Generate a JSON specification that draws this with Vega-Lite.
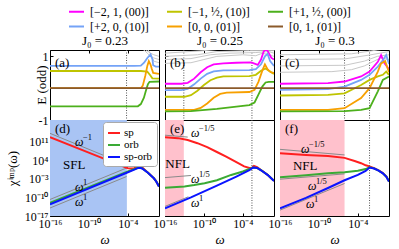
{
"$schema":"https://vega.github.io/schema/vega-lite/v6.json",
"padding":{"left":5,"top":3,"right":8,"bottom":1},
"autosize":{"type":"pad"},
"config":{
 "font":"Liberation Serif",
 "view":{"stroke":"black","strokeWidth":1},
 "axis":{"grid":false,"domainColor":"black","tickColor":"black","labelColor":"black","titleColor":"black","labelFontSize":12,"titleFontSize":13,"titleFontWeight":"normal","labelFont":"Liberation Serif","titleFont":"Liberation Serif","labelFlush":false},
 "title":{"fontSize":13,"fontWeight":"normal","color":"black","font":"Liberation Serif"},
 "legend":{"labelFont":"Liberation Serif","labelColor":"black"},
 "text":{"font":"Liberation Serif","color":"black"}
},
"datasets":{
"top":[
{"p":"a","s":"[+2, 0, (10)]","w":1e-16,"E":0.70},{"p":"a","s":"[+2, 0, (10)]","w":1e-3,"E":0.70},{"p":"a","s":"[+2, 0, (10)]","w":1e-2,"E":0.71},{"p":"a","s":"[+2, 0, (10)]","w":0.0316,"E":0.80},{"p":"a","s":"[+2, 0, (10)]","w":0.1,"E":0.95},{"p":"a","s":"[+2, 0, (10)]","w":0.316,"E":1.06},{"p":"a","s":"[+2, 0, (10)]","w":0.631,"E":0.9},{"p":"a","s":"[+2, 0, (10)]","w":0.8,"E":0.72},{"p":"a","s":"[+2, 0, (10)]","w":2,"E":0.68},{"p":"a","s":"[+2, 0, (10)]","w":6.31,"E":0.68},
{"p":"a","s":"[−1, ½, (10)]","w":1e-16,"E":0.54},{"p":"a","s":"[−1, ½, (10)]","w":1e-2,"E":0.54},{"p":"a","s":"[−1, ½, (10)]","w":0.1,"E":0.52},{"p":"a","s":"[−1, ½, (10)]","w":0.3,"E":0.40},{"p":"a","s":"[−1, ½, (10)]","w":0.6,"E":0.31},{"p":"a","s":"[−1, ½, (10)]","w":6.31,"E":0.30},
{"p":"a","s":"[+1, ½, (00)]","w":1e-16,"E":-0.57},{"p":"a","s":"[+1, ½, (00)]","w":3.5e-3,"E":-0.57},{"p":"a","s":"[+1, ½, (00)]","w":1e-2,"E":-0.5},{"p":"a","s":"[+1, ½, (00)]","w":0.03,"E":-0.3},{"p":"a","s":"[+1, ½, (00)]","w":0.06,"E":-0.08},{"p":"a","s":"[+1, ½, (00)]","w":0.12,"E":0.12},{"p":"a","s":"[+1, ½, (00)]","w":0.22,"E":0.2},{"p":"a","s":"[+1, ½, (00)]","w":6.31,"E":0.21},
{"p":"a","s":"[0, 0, (01)]","w":1e-16,"E":0},{"p":"a","s":"[0, 0, (01)]","w":1e-2,"E":0},{"p":"a","s":"[0, 0, (01)]","w":0.02,"E":0.08},{"p":"a","s":"[0, 0, (01)]","w":0.05,"E":0.4},{"p":"a","s":"[0, 0, (01)]","w":0.1,"E":0.7},{"p":"a","s":"[0, 0, (01)]","w":0.17,"E":0.85},{"p":"a","s":"[0, 0, (01)]","w":0.3,"E":0.75},{"p":"a","s":"[0, 0, (01)]","w":0.5,"E":0.6},{"p":"a","s":"[0, 0, (01)]","w":0.8,"E":0.48},{"p":"a","s":"[0, 0, (01)]","w":6.31,"E":0.45},
{"p":"a","s":"[0, 1, (01)]","w":1e-16,"E":0},{"p":"a","s":"[0, 1, (01)]","w":6.31,"E":0},
{"p":"b","s":"[−2, 1, (00)]","w":1e-16,"E":0.14},{"p":"b","s":"[−2, 1, (00)]","w":3.16e-14,"E":0.14},{"p":"b","s":"[−2, 1, (00)]","w":3.16e-13,"E":0.17},{"p":"b","s":"[−2, 1, (00)]","w":3.16e-12,"E":0.3},{"p":"b","s":"[−2, 1, (00)]","w":3.16e-11,"E":0.5},{"p":"b","s":"[−2, 1, (00)]","w":3.16e-10,"E":0.66},{"p":"b","s":"[−2, 1, (00)]","w":3.16e-9,"E":0.75},{"p":"b","s":"[−2, 1, (00)]","w":1e-7,"E":0.78},{"p":"b","s":"[−2, 1, (00)]","w":1e-5,"E":0.8},{"p":"b","s":"[−2, 1, (00)]","w":2e-3,"E":0.81},{"p":"b","s":"[−2, 1, (00)]","w":2e-2,"E":0.73},{"p":"b","s":"[−2, 1, (00)]","w":0.0631,"E":0.9},{"p":"b","s":"[−2, 1, (00)]","w":0.158,"E":1.15},{"p":"b","s":"[−2, 1, (00)]","w":0.398,"E":1.25},{"p":"b","s":"[−2, 1, (00)]","w":1,"E":1.1},{"p":"b","s":"[−2, 1, (00)]","w":2.51,"E":0.95},{"p":"b","s":"[−2, 1, (00)]","w":6.31,"E":0.9},
{"p":"b","s":"[+2, 0, (10)]","w":1e-16,"E":-0.06},{"p":"b","s":"[+2, 0, (10)]","w":3.16e-14,"E":-0.06},{"p":"b","s":"[+2, 0, (10)]","w":3.16e-13,"E":-0.02},{"p":"b","s":"[+2, 0, (10)]","w":3.16e-12,"E":0.12},{"p":"b","s":"[+2, 0, (10)]","w":3.16e-11,"E":0.3},{"p":"b","s":"[+2, 0, (10)]","w":3.16e-10,"E":0.45},{"p":"b","s":"[+2, 0, (10)]","w":3.16e-9,"E":0.53},{"p":"b","s":"[+2, 0, (10)]","w":1e-7,"E":0.56},{"p":"b","s":"[+2, 0, (10)]","w":1e-3,"E":0.57},{"p":"b","s":"[+2, 0, (10)]","w":1e-2,"E":0.6},{"p":"b","s":"[+2, 0, (10)]","w":0.0631,"E":0.75},{"p":"b","s":"[+2, 0, (10)]","w":0.251,"E":1.0},{"p":"b","s":"[+2, 0, (10)]","w":0.631,"E":1.08},{"p":"b","s":"[+2, 0, (10)]","w":1.58,"E":0.85},{"p":"b","s":"[+2, 0, (10)]","w":6.31,"E":0.7},
{"p":"b","s":"[−1, ½, (10)]","w":1e-16,"E":-0.27},{"p":"b","s":"[−1, ½, (10)]","w":1e-13,"E":-0.27},{"p":"b","s":"[−1, ½, (10)]","w":1e-12,"E":-0.22},{"p":"b","s":"[−1, ½, (10)]","w":1e-11,"E":-0.08},{"p":"b","s":"[−1, ½, (10)]","w":1e-10,"E":0.1},{"p":"b","s":"[−1, ½, (10)]","w":1e-9,"E":0.25},{"p":"b","s":"[−1, ½, (10)]","w":1e-8,"E":0.33},{"p":"b","s":"[−1, ½, (10)]","w":1e-7,"E":0.37},{"p":"b","s":"[−1, ½, (10)]","w":1e-3,"E":0.38},{"p":"b","s":"[−1, ½, (10)]","w":1e-2,"E":0.42},{"p":"b","s":"[−1, ½, (10)]","w":0.0631,"E":0.55},{"p":"b","s":"[−1, ½, (10)]","w":0.316,"E":0.62},{"p":"b","s":"[−1, ½, (10)]","w":1,"E":0.55},{"p":"b","s":"[−1, ½, (10)]","w":6.31,"E":0.45},
{"p":"b","s":"[0, 0, (01)]","w":1e-16,"E":-0.68},{"p":"b","s":"[0, 0, (01)]","w":3.16e-12,"E":-0.68},{"p":"b","s":"[0, 0, (01)]","w":3.16e-11,"E":-0.62},{"p":"b","s":"[0, 0, (01)]","w":3.16e-10,"E":-0.48},{"p":"b","s":"[0, 0, (01)]","w":3.16e-9,"E":-0.3},{"p":"b","s":"[0, 0, (01)]","w":3.16e-8,"E":-0.18},{"p":"b","s":"[0, 0, (01)]","w":3.16e-7,"E":-0.14},{"p":"b","s":"[0, 0, (01)]","w":1e-3,"E":-0.12},{"p":"b","s":"[0, 0, (01)]","w":6.31e-3,"E":-0.05},{"p":"b","s":"[0, 0, (01)]","w":0.0251,"E":0.2},{"p":"b","s":"[0, 0, (01)]","w":0.1,"E":0.55},{"p":"b","s":"[0, 0, (01)]","w":0.251,"E":0.75},{"p":"b","s":"[0, 0, (01)]","w":0.631,"E":0.6},{"p":"b","s":"[0, 0, (01)]","w":2,"E":0.5},{"p":"b","s":"[0, 0, (01)]","w":6.31,"E":0.48},
{"p":"b","s":"[+1, ½, (00)]","w":1e-16,"E":-0.73},{"p":"b","s":"[+1, ½, (00)]","w":1e-12,"E":-0.72},{"p":"b","s":"[+1, ½, (00)]","w":1e-8,"E":-0.65},{"p":"b","s":"[+1, ½, (00)]","w":1e-5,"E":-0.58},{"p":"b","s":"[+1, ½, (00)]","w":1e-3,"E":-0.53},{"p":"b","s":"[+1, ½, (00)]","w":6.31e-3,"E":-0.45},{"p":"b","s":"[+1, ½, (00)]","w":0.0251,"E":-0.2},{"p":"b","s":"[+1, ½, (00)]","w":0.1,"E":0.05},{"p":"b","s":"[+1, ½, (00)]","w":0.316,"E":0.18},{"p":"b","s":"[+1, ½, (00)]","w":1,"E":0.2},{"p":"b","s":"[+1, ½, (00)]","w":6.31,"E":0.2},
{"p":"b","s":"[0, 1, (01)]","w":1e-16,"E":0},{"p":"b","s":"[0, 1, (01)]","w":6.31,"E":0},
{"p":"c","s":"[−2, 1, (00)]","w":1e-16,"E":0.14},{"p":"c","s":"[−2, 1, (00)]","w":2.51e-9,"E":0.16},{"p":"c","s":"[−2, 1, (00)]","w":8.91e-7,"E":0.21},{"p":"c","s":"[−2, 1, (00)]","w":3.16e-4,"E":0.37},{"p":"c","s":"[−2, 1, (00)]","w":6.31e-3,"E":0.52},{"p":"c","s":"[−2, 1, (00)]","w":0.12,"E":0.83},{"p":"c","s":"[−2, 1, (00)]","w":0.38,"E":1.04},{"p":"c","s":"[−2, 1, (00)]","w":1.29,"E":0.78},{"p":"c","s":"[−2, 1, (00)]","w":6.31,"E":0.6},
{"p":"c","s":"[+2, 0, (10)]","w":1e-16,"E":-0.05},{"p":"c","s":"[+2, 0, (10)]","w":2.51e-9,"E":-0.03},{"p":"c","s":"[+2, 0, (10)]","w":8.91e-7,"E":0.05},{"p":"c","s":"[+2, 0, (10)]","w":3.16e-4,"E":0.26},{"p":"c","s":"[+2, 0, (10)]","w":6.31e-3,"E":0.42},{"p":"c","s":"[+2, 0, (10)]","w":0.12,"E":0.68},{"p":"c","s":"[+2, 0, (10)]","w":0.708,"E":0.88},{"p":"c","s":"[+2, 0, (10)]","w":2.34,"E":1.04},{"p":"c","s":"[+2, 0, (10)]","w":6.31,"E":0.76},
{"p":"c","s":"[−1, ½, (10)]","w":1e-16,"E":-0.23},{"p":"c","s":"[−1, ½, (10)]","w":2.51e-9,"E":-0.21},{"p":"c","s":"[−1, ½, (10)]","w":8.91e-7,"E":-0.16},{"p":"c","s":"[−1, ½, (10)]","w":3.16e-4,"E":0.1},{"p":"c","s":"[−1, ½, (10)]","w":6.31e-3,"E":0.26},{"p":"c","s":"[−1, ½, (10)]","w":0.12,"E":0.37},{"p":"c","s":"[−1, ½, (10)]","w":0.708,"E":0.42},{"p":"c","s":"[−1, ½, (10)]","w":2.34,"E":0.52},{"p":"c","s":"[−1, ½, (10)]","w":6.31,"E":0.42},
{"p":"c","s":"[0, 0, (01)]","w":1e-16,"E":-0.68},{"p":"c","s":"[0, 0, (01)]","w":2.51e-9,"E":-0.68},{"p":"c","s":"[0, 0, (01)]","w":8.91e-7,"E":-0.63},{"p":"c","s":"[0, 0, (01)]","w":3.16e-4,"E":-0.31},{"p":"c","s":"[0, 0, (01)]","w":6.31e-3,"E":0.0},{"p":"c","s":"[0, 0, (01)]","w":0.12,"E":0.52},{"p":"c","s":"[0, 0, (01)]","w":0.38,"E":0.78},{"p":"c","s":"[0, 0, (01)]","w":1.58,"E":0.85},{"p":"c","s":"[0, 0, (01)]","w":6.31,"E":0.5},
{"p":"c","s":"[+1, ½, (00)]","w":1e-16,"E":-0.73},{"p":"c","s":"[+1, ½, (00)]","w":1e-6,"E":-0.72},{"p":"c","s":"[+1, ½, (00)]","w":3.16e-4,"E":-0.68},{"p":"c","s":"[+1, ½, (00)]","w":6.31e-3,"E":-0.63},{"p":"c","s":"[+1, ½, (00)]","w":0.12,"E":-0.1},{"p":"c","s":"[+1, ½, (00)]","w":0.708,"E":0.26},{"p":"c","s":"[+1, ½, (00)]","w":6.31,"E":0.37},
{"p":"c","s":"[0, 1, (01)]","w":1e-16,"E":0},{"p":"c","s":"[0, 1, (01)]","w":6.31,"E":0}
],
"topg":[
{"p":"a","s":"g1","w":1e-3,"E":1.3},{"p":"a","s":"g1","w":0.0316,"E":1.2},{"p":"a","s":"g1","w":0.1,"E":1.1},{"p":"a","s":"g1","w":0.316,"E":1.0},{"p":"a","s":"g1","w":1,"E":0.95},{"p":"a","s":"g1","w":6.31,"E":0.9},
{"p":"a","s":"g2","w":1e-2,"E":1.35},{"p":"a","s":"g2","w":0.1,"E":1.17},{"p":"a","s":"g2","w":0.316,"E":1.1},{"p":"a","s":"g2","w":1,"E":1.05},{"p":"a","s":"g2","w":6.31,"E":1.0},
{"p":"a","s":"g3","w":0.03,"E":1.4},{"p":"a","s":"g3","w":0.2,"E":1.15},{"p":"a","s":"g3","w":1,"E":0.85},{"p":"a","s":"g3","w":6.31,"E":0.8},
{"p":"b","s":"g1","w":1e-16,"E":0.78},{"p":"b","s":"g1","w":1e-12,"E":0.8},{"p":"b","s":"g1","w":1e-10,"E":0.9},{"p":"b","s":"g1","w":1e-8,"E":1.0},{"p":"b","s":"g1","w":1e-4,"E":1.05},{"p":"b","s":"g1","w":1e-2,"E":1.02},{"p":"b","s":"g1","w":0.1,"E":1.1},{"p":"b","s":"g1","w":1,"E":1.05},{"p":"b","s":"g1","w":6.31,"E":1.0},
{"p":"b","s":"g2","w":1e-16,"E":0.9},{"p":"b","s":"g2","w":1e-12,"E":0.93},{"p":"b","s":"g2","w":1e-9,"E":1.05},{"p":"b","s":"g2","w":1e-6,"E":1.1},{"p":"b","s":"g2","w":1e-2,"E":1.12},{"p":"b","s":"g2","w":1,"E":1.15},{"p":"b","s":"g2","w":6.31,"E":1.1},
{"p":"b","s":"g3","w":1e-16,"E":1.0},{"p":"b","s":"g3","w":1e-11,"E":1.05},{"p":"b","s":"g3","w":1e-8,"E":1.15},{"p":"b","s":"g3","w":1e-3,"E":1.18},{"p":"b","s":"g3","w":6.31,"E":1.18},
{"p":"b","s":"g4","w":1e-16,"E":1.1},{"p":"b","s":"g4","w":1e-10,"E":1.18},{"p":"b","s":"g4","w":1e-6,"E":1.25},
{"p":"c","s":"g1","w":1e-16,"E":0.5},{"p":"c","s":"g1","w":1e-8,"E":0.52},{"p":"c","s":"g1","w":1e-5,"E":0.58},{"p":"c","s":"g1","w":1e-3,"E":0.7},{"p":"c","s":"g1","w":0.0316,"E":0.85},{"p":"c","s":"g1","w":0.316,"E":0.95},{"p":"c","s":"g1","w":6.31,"E":0.9},
{"p":"c","s":"g2","w":1e-16,"E":0.7},{"p":"c","s":"g2","w":1e-6,"E":0.72},{"p":"c","s":"g2","w":1e-3,"E":0.85},{"p":"c","s":"g2","w":0.1,"E":1.0},{"p":"c","s":"g2","w":6.31,"E":1.05},
{"p":"c","s":"g3","w":1e-16,"E":0.9},{"p":"c","s":"g3","w":1e-6,"E":0.92},{"p":"c","s":"g3","w":1e-2,"E":1.05},{"p":"c","s":"g3","w":6.31,"E":1.15},
{"p":"c","s":"g4","w":1e-16,"E":1.05},{"p":"c","s":"g4","w":1e-5,"E":1.08},{"p":"c","s":"g4","w":0.1,"E":1.2},{"p":"c","s":"g4","w":6.31,"E":1.25}
],
"bot":[
{"p":"d","s":"sp","w":1e-16,"c":3.98e12},{"p":"d","s":"sp","w":1e-8,"c":6.31e4},{"p":"d","s":"sp","w":1e-4,"c":7.94},{"p":"d","s":"sp","w":5.01e-4,"c":6.31},{"p":"d","s":"sp","w":1e-3,"c":8.91},{"p":"d","s":"sp","w":2.51e-3,"c":39.8},{"p":"d","s":"sp","w":5.01e-3,"c":56.2},{"p":"d","s":"sp","w":0.0158,"c":15.8},{"p":"d","s":"sp","w":0.126,"c":0.178},{"p":"d","s":"sp","w":1,"c":1.58e-3},{"p":"d","s":"sp","w":2.24,"c":1.26e-4},{"p":"d","s":"sp","w":6.31,"c":1.26e-6},
{"p":"d","s":"orb","w":1e-16,"c":7.94e-13},{"p":"d","s":"orb","w":1e-4,"c":0.501},{"p":"d","s":"orb","w":1e-3,"c":3.98},{"p":"d","s":"orb","w":3.16e-3,"c":10},{"p":"d","s":"orb","w":6.31e-3,"c":12.6},{"p":"d","s":"orb","w":0.0158,"c":7.94},{"p":"d","s":"orb","w":0.126,"c":0.178},{"p":"d","s":"orb","w":1,"c":1.58e-3},{"p":"d","s":"orb","w":2.24,"c":1.26e-4},{"p":"d","s":"orb","w":6.31,"c":1.26e-6},
{"p":"d","s":"sp-orb","w":1e-16,"c":2.51e-13},{"p":"d","s":"sp-orb","w":1e-4,"c":0.251},{"p":"d","s":"sp-orb","w":1e-3,"c":2.51},{"p":"d","s":"sp-orb","w":3.16e-3,"c":8.91},{"p":"d","s":"sp-orb","w":6.31e-3,"c":11.2},{"p":"d","s":"sp-orb","w":0.0158,"c":7.08},{"p":"d","s":"sp-orb","w":0.126,"c":0.158},{"p":"d","s":"sp-orb","w":1,"c":1.41e-3},{"p":"d","s":"sp-orb","w":2.24,"c":1.12e-4},{"p":"d","s":"sp-orb","w":6.31,"c":1.12e-6},
{"p":"e","s":"sp","w":1e-16,"c":3.16e12},{"p":"e","s":"sp","w":1e-14,"c":1.58e12},{"p":"e","s":"sp","w":3.16e-13,"c":3.16e11},{"p":"e","s":"sp","w":1e-11,"c":2e10},{"p":"e","s":"sp","w":3.16e-10,"c":6.31e8},{"p":"e","s":"sp","w":1e-8,"c":1e7},{"p":"e","s":"sp","w":3.16e-7,"c":1.58e5},{"p":"e","s":"sp","w":1e-5,"c":1.58e3},{"p":"e","s":"sp","w":1.58e-4,"c":39.8},{"p":"e","s":"sp","w":1e-3,"c":10},{"p":"e","s":"sp","w":2.51e-3,"c":12.6},{"p":"e","s":"sp","w":5.01e-3,"c":56.2},{"p":"e","s":"sp","w":0.0158,"c":20},{"p":"e","s":"sp","w":0.0631,"c":1.78},{"p":"e","s":"sp","w":0.708,"c":0.0251},{"p":"e","s":"sp","w":6.31,"c":1.58e-4},
{"p":"e","s":"orb","w":1e-16,"c":3.98e-7},{"p":"e","s":"orb","w":1e-13,"c":1.26e-6},{"p":"e","s":"orb","w":3.16e-12,"c":3.98e-6},{"p":"e","s":"orb","w":1.26e-10,"c":1.78e-5},{"p":"e","s":"orb","w":1e-8,"c":2.51e-4},{"p":"e","s":"orb","w":1.58e-6,"c":0.0251},{"p":"e","s":"orb","w":1e-4,"c":0.501},{"p":"e","s":"orb","w":2e-3,"c":7.94},{"p":"e","s":"orb","w":3.98e-3,"c":15.8},{"p":"e","s":"orb","w":0.0158,"c":10},{"p":"e","s":"orb","w":0.0631,"c":1.58},{"p":"e","s":"orb","w":0.708,"c":0.0251},{"p":"e","s":"orb","w":6.31,"c":1.58e-4},
{"p":"e","s":"sp-orb","w":1e-16,"c":7.94e-15},{"p":"e","s":"sp-orb","w":1e-12,"c":1e-10},{"p":"e","s":"sp-orb","w":1e-8,"c":2.51e-6},{"p":"e","s":"sp-orb","w":1e-5,"c":6.31e-3},{"p":"e","s":"sp-orb","w":1e-3,"c":1.58},{"p":"e","s":"sp-orb","w":3.98e-3,"c":15.8},{"p":"e","s":"sp-orb","w":0.0158,"c":10},{"p":"e","s":"sp-orb","w":0.0631,"c":1.41},{"p":"e","s":"sp-orb","w":0.708,"c":0.0224},{"p":"e","s":"sp-orb","w":6.31,"c":1.41e-4},
{"p":"f","s":"sp","w":1e-16,"c":3.16e6},{"p":"f","s":"sp","w":1e-12,"c":7.94e5},{"p":"f","s":"sp","w":2.51e-9,"c":3.16e5},{"p":"f","s":"sp","w":8.91e-7,"c":6.31e4},{"p":"f","s":"sp","w":3.16e-5,"c":3.98e3},{"p":"f","s":"sp","w":3.16e-4,"c":631},{"p":"f","s":"sp","w":1.58e-3,"c":100},{"p":"f","s":"sp","w":6.31e-3,"c":39.8},{"p":"f","s":"sp","w":0.0316,"c":7.94},{"p":"f","s":"sp","w":0.158,"c":1.26},{"p":"f","s":"sp","w":0.708,"c":0.126},{"p":"f","s":"sp","w":2.51,"c":6.31e-3},{"p":"f","s":"sp","w":6.31,"c":1e-4},
{"p":"f","s":"orb","w":1e-16,"c":3.16e-3},{"p":"f","s":"orb","w":1e-12,"c":0.02},{"p":"f","s":"orb","w":2.51e-9,"c":0.1},{"p":"f","s":"orb","w":8.91e-7,"c":0.251},{"p":"f","s":"orb","w":1e-4,"c":1},{"p":"f","s":"orb","w":1.58e-3,"c":3.98},{"p":"f","s":"orb","w":6.31e-3,"c":17.8},{"p":"f","s":"orb","w":0.0316,"c":7.08},{"p":"f","s":"orb","w":0.158,"c":1.12},{"p":"f","s":"orb","w":0.708,"c":0.112},{"p":"f","s":"orb","w":2.51,"c":5.62e-3},{"p":"f","s":"orb","w":6.31,"c":8.91e-5},
{"p":"f","s":"sp-orb","w":1e-16,"c":7.94e-15},{"p":"f","s":"sp-orb","w":1e-12,"c":6.31e-11},{"p":"f","s":"sp-orb","w":2.51e-9,"c":3.16e-7},{"p":"f","s":"sp-orb","w":8.91e-7,"c":2.51e-4},{"p":"f","s":"sp-orb","w":1e-4,"c":0.0251},{"p":"f","s":"sp-orb","w":1.58e-3,"c":0.794},{"p":"f","s":"sp-orb","w":6.31e-3,"c":15.8},{"p":"f","s":"sp-orb","w":0.0316,"c":6.31},{"p":"f","s":"sp-orb","w":0.158,"c":1},{"p":"f","s":"sp-orb","w":0.708,"c":0.1},{"p":"f","s":"sp-orb","w":2.51,"c":5.01e-3},{"p":"f","s":"sp-orb","w":6.31,"c":7.94e-5}
],
"ref":[
{"p":"d","s":"r1","w":1e-16,"c":1e14},{"p":"d","s":"r1","w":6.31e-5,"c":158},
{"p":"d","s":"r2","w":1e-16,"c":1.58e-11},{"p":"d","s":"r2","w":6.31e-5,"c":10},
{"p":"d","s":"r3","w":1e-16,"c":1e-14},{"p":"d","s":"r3","w":6.31e-5,"c":6.31e-3},
{"p":"e","s":"r1","w":1e-16,"c":2e13},{"p":"e","s":"r1","w":3.16e-13,"c":3.98e12},
{"p":"e","s":"r2","w":1e-16,"c":2.51e-3},{"p":"e","s":"r2","w":1e-12,"c":0.0158},
{"p":"e","s":"r3","w":1e-16,"c":3.98e-14},{"p":"e","s":"r3","w":3.98e-13,"c":1.58e-10},
{"p":"f","s":"r1","w":1e-16,"c":1e8},{"p":"f","s":"r1","w":8.91e-7,"c":7.94e5},
{"p":"f","s":"r2","w":1e-16,"c":6.31e-4},{"p":"f","s":"r2","w":8.91e-7,"c":0.0631},
{"p":"f","s":"r3","w":1e-16,"c":1.58e-15},{"p":"f","s":"r3","w":8.91e-7,"c":1.58e-5}
],
"shade":[
{"p":"d","w":1e-16,"w2":7.08e-5},{"p":"e","w":1e-16,"w2":7.94e-14},{"p":"f","w":1e-16,"w2":8.91e-7}
],
"vl":[
{"p":"a","w":6.31e-5},{"p":"b","w":7.94e-14},{"p":"b","w":2.51e-3},{"p":"c","w":8.91e-7},{"p":"c","w":6.31e-3},{"p":"e","w":2.51e-3},{"p":"f","w":6.31e-3}
],
"annT":[
{"p":"a","t":"(a)","w":5.9e-16,"E":0.78},{"p":"b","t":"(b)","w":5.9e-16,"E":0.78},{"p":"c","t":"(c)","w":5.9e-16,"E":0.78}
],
"annB":[
{"p":"d","t":"(d)","w":5.9e-16,"c":3.98e15},{"p":"e","t":"(e)","w":5.9e-16,"c":3.98e15},{"p":"f","t":"(f)","w":5.9e-16,"c":3.98e15},
{"p":"d","t":"SFL","w":1e-14,"c":126},{"p":"e","t":"NFL","w":1.12e-16,"c":316},{"p":"f","t":"NFL","w":1e-14,"c":56.2}
],
"sup":[
{"p":"d","s":"−1","w":7.08e-13,"c":3.98e10},{"p":"d","s":"1","w":7.08e-13,"c":5.01e-7},{"p":"d","s":"1","w":7.08e-13,"c":1.26e-12},
{"p":"e","s":"−1/5","w":1e-12,"c":2e14},{"p":"e","s":"1/5","w":1e-12,"c":5.01e-4},{"p":"e","s":"1","w":1e-12,"c":7.94e-13},
{"p":"f","s":"−1/5","w":1.7e-13,"c":1.78e8},{"p":"f","s":"1/5","w":2e-12,"c":2.51e-6},{"p":"f","s":"1","w":1e-12,"c":3.16e-13}
]
},
"columns":3,
"spacing":{"row":0,"column":6},
"bounds":"flush",
"align":"each",
"resolve":{"scale":{"color":"independent"},"legend":{"color":"independent"}},
"concat":[
{"width":109,"height":70,"title":{"text":"E (odd)","orient":"left","anchor":"middle","offset":-11},
 "layer":[
  {"data":{"name":"vl"},"transform":[{"filter":"datum.p=='a'"}],"mark":{"type":"rule","strokeDash":[1,1.5],"color":"#555","strokeWidth":1},
   "encoding":{"x":{"field":"w","type":"quantitative","scale":{"type":"log","domain":[1e-16,6.31],"nice":false},"axis":{"orient":"top","values":[1e-16,1e-10,1e-4],"labels":false,"title":"J₀ = 0.23","titlePadding":2,"tickSize":-3,"domain":false}}}},
  {"data":{"name":"topg"},"transform":[{"filter":"datum.p=='a'"}],"mark":{"type":"line","color":"#c8c8c8","strokeWidth":1,"clip":true},
   "encoding":{"x":{"field":"w","type":"quantitative","scale":{"type":"log","domain":[1e-16,6.31],"nice":false},"axis":{"orient":"top","values":[1e-16,1e-10,1e-4],"labels":false,"title":"J₀ = 0.23","titlePadding":2,"tickSize":-3,"domain":false}},
    "y":{"field":"E","type":"quantitative","scale":{"domain":[-1,1.2],"nice":false,"zero":false},"axis":{"values":[-1,-0.5,0,0.5,1],"labelExpr":"datum.value==1?'1':datum.value==0?'0':datum.value==-1?'-1':''","title":null,"tickSize":-3,"labelPadding":5,"domain":false}},
    "detail":{"field":"s","type":"nominal"}}},
  {"data":{"name":"top"},"transform":[{"filter":"datum.p=='a'"}],"mark":{"type":"line","strokeWidth":1.8,"clip":true},
   "encoding":{"x":{"field":"w","type":"quantitative","scale":{"type":"log","domain":[1e-16,6.31],"nice":false},"axis":{"orient":"top","values":[1e-16,1e-10,1e-4],"labels":false,"title":"J₀ = 0.23","titlePadding":2,"tickSize":-3,"domain":false}},
    "y":{"field":"E","type":"quantitative","scale":{"domain":[-1,1.2],"nice":false,"zero":false},"axis":{"values":[-1,-0.5,0,0.5,1],"labelExpr":"datum.value==1?'1':datum.value==0?'0':datum.value==-1?'-1':''","title":null,"tickSize":-3,"labelPadding":5,"domain":false}},
    "stroke":{"field":"s","type":"nominal","scale":{"domain":["[−2, 1, (00)]","[−1, ½, (10)]","[+1, ½, (00)]","[+2, 0, (10)]","[0, 0, (01)]","[0, 1, (01)]"],"range":["#ff00ff","#bfc400","#4cb01c","#74a3f7","#f7a000","#8b5a2b"]},
     "legend":{"orient":"none","legendX":18,"legendY":-47,"columns":3,"direction":"horizontal","title":null,"symbolType":"stroke","symbolSize":225,"symbolStrokeWidth":2,"labelFontSize":12,"labelOffset":5,"columnPadding":14,"rowPadding":0,"padding":0}}}},
  {"data":{"name":"annT"},"transform":[{"filter":"datum.p=='a'"}],"mark":{"type":"text","align":"left","baseline":"middle","fontSize":13},
   "encoding":{"x":{"field":"w","type":"quantitative","scale":{"type":"log","domain":[1e-16,6.31],"nice":false}},"y":{"field":"E","type":"quantitative"},"text":{"field":"t"}}}
 ]},
{"width":109,"height":70,
 "layer":[
  {"data":{"name":"vl"},"transform":[{"filter":"datum.p=='b'"}],"mark":{"type":"rule","strokeDash":[1,1.5],"color":"#555","strokeWidth":1},
   "encoding":{"x":{"field":"w","type":"quantitative","scale":{"type":"log","domain":[1e-16,6.31],"nice":false},"axis":{"orient":"top","values":[1e-16,1e-10,1e-4],"labels":false,"title":"J₀ = 0.25","titlePadding":2,"tickSize":-3,"domain":false}}}},
  {"data":{"name":"topg"},"transform":[{"filter":"datum.p=='b'"}],"mark":{"type":"line","color":"#c8c8c8","strokeWidth":1,"clip":true},
   "encoding":{"x":{"field":"w","type":"quantitative","scale":{"type":"log","domain":[1e-16,6.31],"nice":false},"axis":{"orient":"top","values":[1e-16,1e-10,1e-4],"labels":false,"title":"J₀ = 0.25","titlePadding":2,"tickSize":-3,"domain":false}},
    "y":{"field":"E","type":"quantitative","scale":{"domain":[-1,1.2],"nice":false,"zero":false},"axis":{"values":[-1,-0.5,0,0.5,1],"labels":false,"title":null,"tickSize":-3,"domain":false}},
    "detail":{"field":"s","type":"nominal"}}},
  {"data":{"name":"top"},"transform":[{"filter":"datum.p=='b'"}],"mark":{"type":"line","strokeWidth":1.8,"clip":true},
   "encoding":{"x":{"field":"w","type":"quantitative","scale":{"type":"log","domain":[1e-16,6.31],"nice":false},"axis":{"orient":"top","values":[1e-16,1e-10,1e-4],"labels":false,"title":"J₀ = 0.25","titlePadding":2,"tickSize":-3,"domain":false}},
    "y":{"field":"E","type":"quantitative","scale":{"domain":[-1,1.2],"nice":false,"zero":false},"axis":{"values":[-1,-0.5,0,0.5,1],"labels":false,"title":null,"tickSize":-3,"domain":false}},
    "stroke":{"field":"s","type":"nominal","scale":{"domain":["[−2, 1, (00)]","[−1, ½, (10)]","[+1, ½, (00)]","[+2, 0, (10)]","[0, 0, (01)]","[0, 1, (01)]"],"range":["#ff00ff","#bfc400","#4cb01c","#74a3f7","#f7a000","#8b5a2b"]},
     "legend":{"orient":"none","legendX":18,"legendY":-47,"columns":3,"direction":"horizontal","title":null,"symbolType":"stroke","symbolSize":225,"symbolStrokeWidth":2,"labelFontSize":12,"labelOffset":5,"columnPadding":14,"rowPadding":0,"padding":0}}}},
  {"data":{"name":"annT"},"transform":[{"filter":"datum.p=='b'"}],"mark":{"type":"text","align":"left","baseline":"middle","fontSize":13},
   "encoding":{"x":{"field":"w","type":"quantitative","scale":{"type":"log","domain":[1e-16,6.31],"nice":false}},"y":{"field":"E","type":"quantitative"},"text":{"field":"t"}}}
 ]},
{"width":109,"height":70,
 "layer":[
  {"data":{"name":"vl"},"transform":[{"filter":"datum.p=='c'"}],"mark":{"type":"rule","strokeDash":[1,1.5],"color":"#555","strokeWidth":1},
   "encoding":{"x":{"field":"w","type":"quantitative","scale":{"type":"log","domain":[1e-16,6.31],"nice":false},"axis":{"orient":"top","values":[1e-16,1e-10,1e-4],"labels":false,"title":"J₀ = 0.3","titlePadding":2,"tickSize":-3,"domain":false}}}},
  {"data":{"name":"topg"},"transform":[{"filter":"datum.p=='c'"}],"mark":{"type":"line","color":"#c8c8c8","strokeWidth":1,"clip":true},
   "encoding":{"x":{"field":"w","type":"quantitative","scale":{"type":"log","domain":[1e-16,6.31],"nice":false},"axis":{"orient":"top","values":[1e-16,1e-10,1e-4],"labels":false,"title":"J₀ = 0.3","titlePadding":2,"tickSize":-3,"domain":false}},
    "y":{"field":"E","type":"quantitative","scale":{"domain":[-1,1.2],"nice":false,"zero":false},"axis":{"values":[-1,-0.5,0,0.5,1],"labels":false,"title":null,"tickSize":-3,"domain":false}},
    "detail":{"field":"s","type":"nominal"}}},
  {"data":{"name":"top"},"transform":[{"filter":"datum.p=='c'"}],"mark":{"type":"line","strokeWidth":1.8,"clip":true},
   "encoding":{"x":{"field":"w","type":"quantitative","scale":{"type":"log","domain":[1e-16,6.31],"nice":false},"axis":{"orient":"top","values":[1e-16,1e-10,1e-4],"labels":false,"title":"J₀ = 0.3","titlePadding":2,"tickSize":-3,"domain":false}},
    "y":{"field":"E","type":"quantitative","scale":{"domain":[-1,1.2],"nice":false,"zero":false},"axis":{"values":[-1,-0.5,0,0.5,1],"labels":false,"title":null,"tickSize":-3,"domain":false}},
    "stroke":{"field":"s","type":"nominal","scale":{"domain":["[−2, 1, (00)]","[−1, ½, (10)]","[+1, ½, (00)]","[+2, 0, (10)]","[0, 0, (01)]","[0, 1, (01)]"],"range":["#ff00ff","#bfc400","#4cb01c","#74a3f7","#f7a000","#8b5a2b"]},
     "legend":{"orient":"none","legendX":18,"legendY":-47,"columns":3,"direction":"horizontal","title":null,"symbolType":"stroke","symbolSize":225,"symbolStrokeWidth":2,"labelFontSize":12,"labelOffset":5,"columnPadding":14,"rowPadding":0,"padding":0}}}},
  {"data":{"name":"annT"},"transform":[{"filter":"datum.p=='c'"}],"mark":{"type":"text","align":"left","baseline":"middle","fontSize":13},
   "encoding":{"x":{"field":"w","type":"quantitative","scale":{"type":"log","domain":[1e-16,6.31],"nice":false}},"y":{"field":"E","type":"quantitative"},"text":{"field":"t"}}}
 ]},
{"width":109,"height":96,
 "layer":[
  {"data":{"name":"shade"},"transform":[{"filter":"datum.p=='d'"}],"mark":{"type":"rect","color":"#a9c4f4"},
   "encoding":{"x":{"field":"w","type":"quantitative","scale":{"type":"log","domain":[1e-16,6.31],"nice":false},"axis":{"values":[1e-16,1e-10,1e-4],"labelExpr":"datum.value<1e-13?'10⁻¹⁶':datum.value<1e-7?'10⁻¹⁰':'10⁻⁴'","labelFlush":false,"title":"ω","titleFontStyle":"italic","tickSize":-3,"labelPadding":5,"titlePadding":4,"domain":false}},"x2":{"field":"w2"}}},
  {"data":{"name":"ref"},"transform":[{"filter":"datum.p=='d'"}],"mark":{"type":"line","color":"#8a8a8a","strokeWidth":1},
   "encoding":{"x":{"field":"w","type":"quantitative","scale":{"type":"log","domain":[1e-16,6.31],"nice":false}},
    "y":{"field":"c","type":"quantitative","scale":{"type":"log","domain":[1e-17,1e19],"nice":false},"axis":{"values":[1e-17,1e-10,1e-3,1e4,1e11],"labelExpr":"datum.value<1e-14?'10⁻¹⁷':datum.value<1e-7?'10⁻¹⁰':datum.value<1?'10⁻³':datum.value<1e7?'10⁴':'10¹¹'","title":"χⁱᵐᵖ(ω)","tickSize":-3,"labelPadding":5,"titlePadding":5,"domain":false}},
    "detail":{"field":"s","type":"nominal"}}},
  {"data":{"name":"bot"},"transform":[{"filter":"datum.p=='d'"}],"mark":{"type":"line","strokeWidth":2,"clip":true},
   "encoding":{"x":{"field":"w","type":"quantitative"},"y":{"field":"c","type":"quantitative"},
    "color":{"field":"s","type":"nominal","scale":{"domain":["sp","orb","sp-orb"],"range":["#ff1f1f","#3aaa35","#0a14ff"]},
     "legend":{"orient":"top-right","offset":2,"title":null,"fillColor":"white","strokeColor":"#aaa","cornerRadius":3,"padding":4,"symbolType":"stroke","symbolSize":144,"symbolStrokeWidth":2,"labelFontSize":11,"labelOffset":3,"rowPadding":0}}}},
  {"data":{"name":"annB"},"transform":[{"filter":"datum.p=='d'"}],"mark":{"type":"text","align":"left","baseline":"middle","fontSize":13},
   "encoding":{"x":{"field":"w","type":"quantitative"},"y":{"field":"c","type":"quantitative"},"text":{"field":"t"}}},
  {"data":{"name":"sup"},"transform":[{"filter":"datum.p=='d'"}],"mark":{"type":"text","text":"ω","fontStyle":"italic","align":"left","baseline":"middle","fontSize":12},
   "encoding":{"x":{"field":"w","type":"quantitative"},"y":{"field":"c","type":"quantitative"}}},
  {"data":{"name":"sup"},"transform":[{"filter":"datum.p=='d'"}],"mark":{"type":"text","align":"left","baseline":"middle","fontSize":8.5,"dx":8,"dy":-5},
   "encoding":{"x":{"field":"w","type":"quantitative"},"y":{"field":"c","type":"quantitative"},"text":{"field":"s"}}}
 ]},
{"width":109,"height":96,
 "layer":[
  {"data":{"name":"shade"},"transform":[{"filter":"datum.p=='e'"}],"mark":{"type":"rect","color":"#ffc1cc"},
   "encoding":{"x":{"field":"w","type":"quantitative","scale":{"type":"log","domain":[1e-16,6.31],"nice":false},"axis":{"values":[1e-16,1e-10,1e-4],"labelExpr":"datum.value<1e-13?'10⁻¹⁶':datum.value<1e-7?'10⁻¹⁰':'10⁻⁴'","labelFlush":false,"title":"ω","titleFontStyle":"italic","tickSize":-3,"labelPadding":5,"titlePadding":4,"domain":false}},"x2":{"field":"w2"}}},
  {"data":{"name":"vl"},"transform":[{"filter":"datum.p=='e'"}],"mark":{"type":"rule","strokeDash":[1,1.5],"color":"#555","strokeWidth":1},
   "encoding":{"x":{"field":"w","type":"quantitative"}}},
  {"data":{"name":"ref"},"transform":[{"filter":"datum.p=='e'"}],"mark":{"type":"line","color":"#8a8a8a","strokeWidth":1},
   "encoding":{"x":{"field":"w","type":"quantitative"},
    "y":{"field":"c","type":"quantitative","scale":{"type":"log","domain":[1e-17,1e19],"nice":false},"axis":{"values":[1e-17,1e-10,1e-3,1e4,1e11],"labels":false,"title":null,"tickSize":-3,"domain":false}},
    "detail":{"field":"s","type":"nominal"}}},
  {"data":{"name":"bot"},"transform":[{"filter":"datum.p=='e'"}],"mark":{"type":"line","strokeWidth":2,"clip":true},
   "encoding":{"x":{"field":"w","type":"quantitative"},"y":{"field":"c","type":"quantitative"},
    "color":{"field":"s","type":"nominal","scale":{"domain":["sp","orb","sp-orb"],"range":["#ff1f1f","#3aaa35","#0a14ff"]},"legend":null}}},
  {"data":{"name":"annB"},"transform":[{"filter":"datum.p=='e'"}],"mark":{"type":"text","align":"left","baseline":"middle","fontSize":13},
   "encoding":{"x":{"field":"w","type":"quantitative"},"y":{"field":"c","type":"quantitative"},"text":{"field":"t"}}},
  {"data":{"name":"sup"},"transform":[{"filter":"datum.p=='e'"}],"mark":{"type":"text","text":"ω","fontStyle":"italic","align":"left","baseline":"middle","fontSize":12},
   "encoding":{"x":{"field":"w","type":"quantitative"},"y":{"field":"c","type":"quantitative"}}},
  {"data":{"name":"sup"},"transform":[{"filter":"datum.p=='e'"}],"mark":{"type":"text","align":"left","baseline":"middle","fontSize":8.5,"dx":8,"dy":-5},
   "encoding":{"x":{"field":"w","type":"quantitative"},"y":{"field":"c","type":"quantitative"},"text":{"field":"s"}}}
 ]},
{"width":109,"height":96,
 "layer":[
  {"data":{"name":"shade"},"transform":[{"filter":"datum.p=='f'"}],"mark":{"type":"rect","color":"#ffc1cc"},
   "encoding":{"x":{"field":"w","type":"quantitative","scale":{"type":"log","domain":[1e-16,6.31],"nice":false},"axis":{"values":[1e-16,1e-10,1e-4],"labelExpr":"datum.value<1e-13?'10⁻¹⁶':datum.value<1e-7?'10⁻¹⁰':'10⁻⁴'","labelFlush":false,"title":"ω","titleFontStyle":"italic","tickSize":-3,"labelPadding":5,"titlePadding":4,"domain":false}},"x2":{"field":"w2"}}},
  {"data":{"name":"vl"},"transform":[{"filter":"datum.p=='f'"}],"mark":{"type":"rule","strokeDash":[1,1.5],"color":"#555","strokeWidth":1},
   "encoding":{"x":{"field":"w","type":"quantitative"}}},
  {"data":{"name":"ref"},"transform":[{"filter":"datum.p=='f'"}],"mark":{"type":"line","color":"#8a8a8a","strokeWidth":1},
   "encoding":{"x":{"field":"w","type":"quantitative"},
    "y":{"field":"c","type":"quantitative","scale":{"type":"log","domain":[1e-17,1e19],"nice":false},"axis":{"values":[1e-17,1e-10,1e-3,1e4,1e11],"labels":false,"title":null,"tickSize":-3,"domain":false}},
    "detail":{"field":"s","type":"nominal"}}},
  {"data":{"name":"bot"},"transform":[{"filter":"datum.p=='f'"}],"mark":{"type":"line","strokeWidth":2,"clip":true},
   "encoding":{"x":{"field":"w","type":"quantitative"},"y":{"field":"c","type":"quantitative"},
    "color":{"field":"s","type":"nominal","scale":{"domain":["sp","orb","sp-orb"],"range":["#ff1f1f","#3aaa35","#0a14ff"]},"legend":null}}},
  {"data":{"name":"annB"},"transform":[{"filter":"datum.p=='f'"}],"mark":{"type":"text","align":"left","baseline":"middle","fontSize":13},
   "encoding":{"x":{"field":"w","type":"quantitative"},"y":{"field":"c","type":"quantitative"},"text":{"field":"t"}}},
  {"data":{"name":"sup"},"transform":[{"filter":"datum.p=='f'"}],"mark":{"type":"text","text":"ω","fontStyle":"italic","align":"left","baseline":"middle","fontSize":12},
   "encoding":{"x":{"field":"w","type":"quantitative"},"y":{"field":"c","type":"quantitative"}}},
  {"data":{"name":"sup"},"transform":[{"filter":"datum.p=='f'"}],"mark":{"type":"text","align":"left","baseline":"middle","fontSize":8.5,"dx":8,"dy":-5},
   "encoding":{"x":{"field":"w","type":"quantitative"},"y":{"field":"c","type":"quantitative"},"text":{"field":"s"}}}
 ]}
]
}
